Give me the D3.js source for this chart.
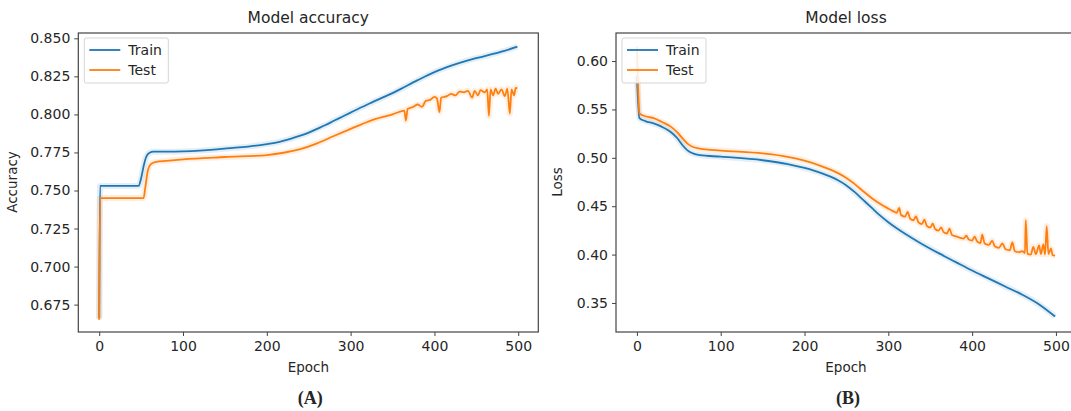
<!DOCTYPE html>
<html>
<head>
<meta charset="utf-8">
<script src="https://cdn.jsdelivr.net/npm/d3@7"></script>
<style>
  body { margin: 0; background: #fff; }
  svg text { font-family: "DejaVu Sans", sans-serif; fill: #262626; }
</style>
</head>
<body>
<svg id="chart" width="1071" height="411"></svg>
<script>
// values, [epoch, value]
const accTrain = [[0,0.666],[1,0.753],[47,0.753],[50,0.758],[53,0.766],[56,0.772],[60,0.7748],[65,0.7755],[80,0.7755],[100,0.7757],[120,0.7762],[140,0.777],[160,0.778],[180,0.779],[200,0.7805],[215,0.782],[230,0.7843],[240,0.786],[250,0.788],[260,0.7905],[270,0.793],[280,0.7958],[290,0.7985],[300,0.8012],[320,0.8065],[340,0.8115],[350,0.814],[360,0.8168],[380,0.8225],[400,0.8278],[420,0.832],[440,0.8355],[460,0.8383],[480,0.8412],[499,0.8445]];

const accTest = [[0,0.665],[1,0.745],[53,0.745],[55,0.752],[58,0.763],[62,0.7675],[68,0.7688],[80,0.7695],[100,0.7705],[150,0.772],[200,0.7733],[220,0.7748],[240,0.7772],[260,0.781],[280,0.7858],[300,0.7905],[310,0.7928],[320,0.795],[330,0.797],[340,0.7985],[350,0.8],[360,0.802],[364,0.8025],[366,0.796],[368,0.8035],[375,0.805],[380,0.8065],[385,0.805],[390,0.809],[395,0.8095],[400,0.8115],[403,0.8105],[406,0.8015],[408,0.811],[415,0.812],[420,0.8135],[425,0.8125],[430,0.815],[435,0.8145],[440,0.8155],[445,0.811],[448,0.8155],[452,0.8125],[455,0.816],[460,0.8145],[463,0.8165],[465,0.799],[467,0.8165],[470,0.8125],[473,0.817],[476,0.8135],[480,0.8165],[484,0.812],[487,0.817],[490,0.8005],[492,0.8165],[495,0.8125],[497,0.8175],[499,0.817]];

const lossTrain = [[0,0.585],[3,0.541],[10,0.538],[20,0.5355],[30,0.532],[40,0.527],[48,0.5205],[55,0.5125],[60,0.508],[65,0.5052],[75,0.5028],[100,0.5012],[150,0.4975],[180,0.4935],[200,0.4895],[220,0.4842],[240,0.4768],[250,0.4715],[260,0.4645],[270,0.4565],[280,0.4485],[290,0.4405],[300,0.4335],[310,0.4272],[320,0.4215],[340,0.411],[360,0.4015],[380,0.3925],[400,0.3835],[420,0.3752],[440,0.3668],[460,0.3585],[480,0.3485],[499,0.336]];

const lossTest = [[0,0.615],[2,0.560],[3,0.546],[10,0.543],[20,0.541],[30,0.537],[40,0.5325],[48,0.5265],[55,0.5195],[60,0.515],[65,0.512],[75,0.5095],[100,0.5075],[150,0.5045],[180,0.501],[200,0.497],[220,0.4915],[240,0.4842],[250,0.4792],[260,0.4728],[270,0.4655],[280,0.4585],[290,0.4525],[300,0.4475],[305,0.4452],[310,0.4432],[313,0.4482],[315,0.4412],[320,0.4392],[323,0.4442],[326,0.4372],[330,0.4355],[333,0.4395],[336,0.4332],[340,0.4315],[343,0.4362],[346,0.4295],[350,0.428],[353,0.432],[356,0.4262],[360,0.4248],[363,0.4282],[366,0.4232],[370,0.4218],[373,0.4268],[376,0.4202],[380,0.419],[385,0.4175],[390,0.4165],[393,0.4195],[396,0.4155],[400,0.4145],[403,0.4185],[406,0.4135],[410,0.412],[412,0.4205],[415,0.4115],[420,0.410],[424,0.4145],[427,0.4085],[432,0.407],[436,0.4115],[440,0.4055],[445,0.4045],[448,0.4125],[451,0.4035],[456,0.4025],[460,0.4035],[463,0.4015],[464,0.4355],[466,0.401],[470,0.400],[473,0.408],[476,0.4005],[480,0.4095],[482,0.4005],[485,0.4105],[487,0.400],[489,0.4295],[491,0.4005],[494,0.4065],[496,0.3995],[499,0.399]];

const epochTicks = [0, 100, 200, 300, 400, 500];
const accTicks = [0.675, 0.700, 0.725, 0.750, 0.775, 0.800, 0.825, 0.850];
const lossTicks = [0.35, 0.40, 0.45, 0.50, 0.55, 0.60];
const seriesNames = ["Train", "Test"];
const colors = ["#1f77b4", "#ff7f0e"];

const svg = d3.select("#chart");

function panel(opt) {
  const x = d3.scaleLinear().domain([-24.95, 523.95]).range([opt.left, opt.left + 460]);
  const y = d3.scaleLinear().domain(opt.yDomain).range([332, 33]);
  const g = svg.append("g");

  // lines, with a faint halo like the blurry original
  const line = d3.line().x(d => x(d[0])).y(d => y(d[1])).curve(d3.curveMonotoneX);
  opt.series.forEach((s, i) => {
    g.append("path").attr("d", line(s)).attr("fill", "none")
      .attr("stroke", colors[i]).attr("stroke-opacity", 0.12).attr("stroke-width", 6);
  });
  opt.series.forEach((s, i) => {
    g.append("path").attr("d", line(s)).attr("fill", "none")
      .attr("stroke", colors[i]).attr("stroke-width", 1.8).attr("stroke-linejoin", "round");
  });

  // frame
  g.append("rect").attr("x", opt.left).attr("y", 33).attr("width", 460).attr("height", 299)
    .attr("fill", "none").attr("stroke", "#444").attr("stroke-width", 1.2);

  const xa = g.append("g").attr("transform", "translate(0,332)")
    .call(d3.axisBottom(x).tickValues(epochTicks).tickSize(4).tickPadding(5));
  const ya = g.append("g").attr("transform", `translate(${opt.left},0)`)
    .call(d3.axisLeft(y).tickValues(opt.ticks).tickFormat(d3.format(opt.fmt)).tickSize(4).tickPadding(4));
  [xa, ya].forEach(a => {
    a.select(".domain").remove();
    a.selectAll("line").attr("stroke", "#444");
    a.selectAll("text").attr("font-size", 14).attr("font-family", "DejaVu Sans").attr("fill", "#262626");
  });

  // titles
  g.append("text").attr("x", opt.left + 230).attr("y", 23).attr("text-anchor", "middle")
    .attr("font-size", 15.5).text(opt.title);
  g.append("text").attr("x", opt.left + 230).attr("y", 372).attr("text-anchor", "middle")
    .attr("font-size", 13.5).text("Epoch");
  g.append("text").attr("transform", `translate(${opt.ylabX},182) rotate(-90)`)
    .attr("text-anchor", "middle").attr("font-size", 13.5).text(opt.ylabel);
  g.append("text").attr("x", opt.left + 232).attr("y", 404).attr("text-anchor", "middle")
    .attr("font-weight", "bold").attr("font-size", 18)
    .style("font-family", "'Liberation Serif', serif").text(opt.caption);

  // legend
  const lx = opt.left + 6, ly = 38;
  g.append("rect").attr("x", lx).attr("y", ly).attr("width", 84).attr("height", 45).attr("rx", 2)
    .attr("fill", "#fff").attr("fill-opacity", 0.85).attr("stroke", "#d5d5d5");
  seriesNames.forEach((n, i) => {
    g.append("line").attr("x1", lx + 5).attr("x2", lx + 36).attr("y1", ly + 12 + i * 20).attr("y2", ly + 12 + i * 20)
      .attr("stroke", colors[i]).attr("stroke-width", 1.8);
    g.append("text").attr("x", lx + 44).attr("y", ly + 17 + i * 20).attr("font-size", 14).text(n);
  });
}

panel({ left: 78.3, yDomain: [0.657, 0.8535], series: [accTrain, accTest], ticks: accTicks, fmt: ".3f",
        title: "Model accuracy", ylabel: "Accuracy", ylabX: 17, caption: "(A)" });
panel({ left: 616, yDomain: [0.320, 0.629], series: [lossTrain, lossTest], ticks: lossTicks, fmt: ".2f",
        title: "Model loss", ylabel: "Loss", ylabX: 562, caption: "(B)" });
</script>
</body>
</html>
